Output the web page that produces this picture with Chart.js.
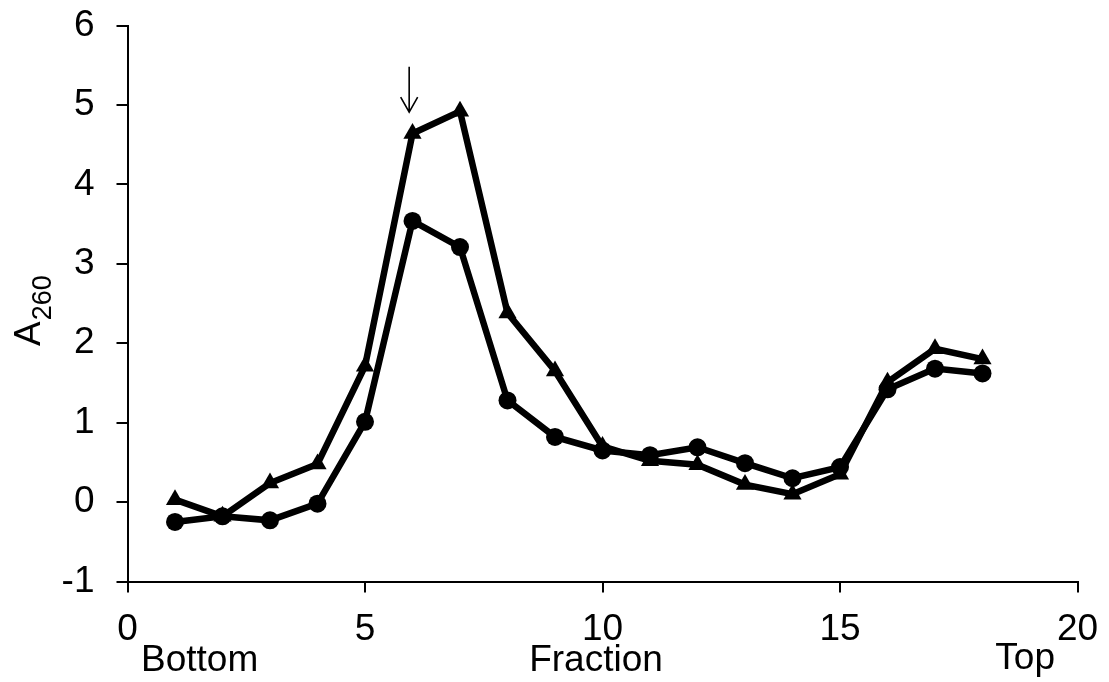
<!DOCTYPE html>
<html><head><meta charset="utf-8">
<script src="https://cdn.jsdelivr.net/npm/chart.js@4"></script>
<style>html,body{margin:0;padding:0;background:#fff}</style>
</head><body>
<canvas id="c" width="1109" height="682"></canvas>
<script>
const fractions = [1,2,3,4,5,6,7,8,9,10,11,12,13,14,15,16,17,18];
const circleSeries = [-0.25,-0.18,-0.23,-0.02,1.01,3.54,3.21,1.28,0.82,0.65,0.59,0.69,0.49,0.30,0.44,1.42,1.68,1.62];
const triangleSeries = [0.03,-0.18,0.24,0.48,1.71,4.64,4.92,2.38,1.65,0.70,0.52,0.47,0.22,0.10,0.35,1.51,1.93,1.80];
const xTicks = [0,5,10,15,20];
const yTicks = [-1,0,1,2,3,4,5,6];
const arrowX = 5.93, arrowFrom = 5.48, arrowTo = 4.91;

const FONT = '"Liberation Sans", Arial, sans-serif';

const textPlugin = {
  id: 'extraText',
  afterDraw(chart) {
    const ctx = chart.ctx;
    const xs = chart.scales.x, ys = chart.scales.y;
    ctx.save();
    ctx.fillStyle = '#000';
    ctx.font = '37px ' + FONT;
    ctx.textBaseline = 'alphabetic';
    ctx.textAlign = 'left';
    ctx.fillText('Bottom', 141, 671);
    ctx.textAlign = 'center';
    ctx.fillText('Fraction', 596, 671);
    ctx.textAlign = 'right';
    ctx.fillText('Top', 1055, 669);
    ctx.save();
    ctx.translate(40, 346);
    ctx.rotate(-Math.PI / 2);
    ctx.textAlign = 'left';
    ctx.font = '37px ' + FONT;
    ctx.fillText('A', 0, 0);
    const w = ctx.measureText('A').width;
    ctx.font = '27px ' + FONT;
    ctx.fillText('260', w + 1, 11);
    ctx.restore();
    const ax = xs.getPixelForValue(arrowX);
    const y1 = ys.getPixelForValue(arrowFrom);
    const y2 = ys.getPixelForValue(arrowTo);
    ctx.strokeStyle = '#000';
    ctx.lineWidth = 1.6;
    ctx.beginPath();
    ctx.moveTo(ax, y1);
    ctx.lineTo(ax, y2);
    ctx.moveTo(ax - 8.5, y2 - 15);
    ctx.lineTo(ax, y2);
    ctx.lineTo(ax + 8.5, y2 - 15);
    ctx.stroke();
    ctx.restore();
  }
};

new Chart(document.getElementById('c'), {
  type: 'line',
  data: {
    datasets: [
      {
        label: 'triangle',
        data: fractions.map((f, i) => ({x: f, y: triangleSeries[i]})),
        borderColor: '#000', backgroundColor: '#000',
        borderWidth: 6.5, pointStyle: 'triangle', pointRadius: 10.5,
        pointBorderWidth: 0, tension: 0, order: 2
      },
      {
        label: 'circle',
        data: fractions.map((f, i) => ({x: f, y: circleSeries[i]})),
        borderColor: '#000', backgroundColor: '#000',
        borderWidth: 6.5, pointStyle: 'circle', pointRadius: 9,
        pointBorderWidth: 0, tension: 0, order: 1
      }
    ]
  },
  options: {
    responsive: false,
    animation: false,
    devicePixelRatio: 1,
    layout: {padding: {top: 25.5, right: 31.5, left: 0, bottom: 0}},
    plugins: {legend: {display: false}, tooltip: {enabled: false}},
    scales: {
      x: {
        type: 'linear', min: 0, max: 20,
        afterBuildTicks: s => { s.ticks = xTicks.map(v => ({value: v})); },
        afterFit: s => { s.height = 100.5; s.paddingLeft = 0; s.paddingRight = 0; },
        grid: {drawOnChartArea: false, drawTicks: true, tickLength: 11, color: '#000', lineWidth: 2},
        border: {display: true, color: '#000', width: 2},
        ticks: {color: '#000', font: {family: FONT, size: 37}, padding: 15, maxRotation: 0, autoSkip: false}
      },
      y: {
        type: 'linear', min: -1, max: 6,
        afterBuildTicks: s => { s.ticks = yTicks.map(v => ({value: v})); },
        afterFit: s => { s.width = 127.5; s.paddingTop = 0; s.paddingBottom = 0; },
        grid: {drawOnChartArea: false, drawTicks: true, tickLength: 11, color: '#000', lineWidth: 2},
        border: {display: true, color: '#000', width: 2},
        ticks: {color: '#000', font: {family: FONT, size: 37}, padding: 22, autoSkip: false}
      }
    }
  },
  plugins: [textPlugin]
});
</script>
</body></html>
